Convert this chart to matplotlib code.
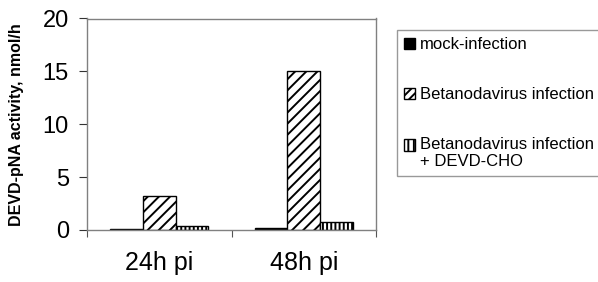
import matplotlib
matplotlib.use("Agg")
import matplotlib.pyplot as plt
from matplotlib.patches import Patch, Rectangle
from matplotlib.legend_handler import HandlerPatch
import numpy as np

plt.rcParams['font.family'] = ['Liberation Sans', 'DejaVu Sans']
plt.rcParams['hatch.linewidth'] = 1.4
plt.rcParams['hatch.color'] = 'black'

categories = ["24h pi", "48h pi"]
series_names = ["mock-infection", "Betanodavirus infection",
                "Betanodavirus infection\n+ DEVD-CHO"]
mock = [0.12, 0.18]
beta = [3.25, 15.0]
devd = [0.4, 0.8]
yticks = [0, 5, 10, 15, 20]

fig = plt.figure(figsize=(5.98, 2.82), dpi=100)
ax = fig.add_axes([87/598, 1-230/282, (376-87)/598, (230-18.5)/282])

x = np.arange(len(categories))
w = 0.225
hatches = [None, '///', '||||']
data = [mock, beta, devd]
for i, (vals, h) in enumerate(zip(data, hatches)):
    fc = 'black' if h is None else 'white'
    ax.bar(x + (i - 1) * w, vals, w, color=fc, edgecolor='black',
           linewidth=1.0, hatch=h, label=series_names[i])

ax.set_xlim(-0.5, 1.5)
ax.set_ylim(0, 20)
ax.set_yticks(yticks)
ax.set_yticklabels([str(t) for t in yticks], fontsize=17)
ax.set_xticks([-0.5, 0.5, 1.5])
ax.set_xticklabels([])
ax.set_xticks(x, minor=True)
ax.set_xticklabels(categories, minor=True, fontsize=18)
ax.tick_params(axis='x', which='minor', length=0, pad=15)
ax.tick_params(axis='x', which='major', length=5, color='#555555', direction='out')
ax.tick_params(axis='y', length=6, color='#333333', direction='out', pad=7)
for s in ax.spines.values():
    s.set_color('#808080')
    s.set_linewidth(1.0)

ax.set_ylabel("DEVD-pNA activity, nmol/h", fontsize=11.5, fontweight='bold')
ax.yaxis.set_label_coords(-0.218, 0.5)


class HandlerTopPatch(HandlerPatch):
    def __init__(self, shift, **kw):
        super().__init__(**kw)
        self.shift = shift

    def create_artists(self, legend, orig_handle, xdescent, ydescent,
                       width, height, fontsize, trans):
        p = Rectangle((-xdescent, -ydescent + self.shift), width, height)
        self.update_prop(p, orig_handle, legend)
        p.set_transform(trans)
        return [p]


handles = [Patch(facecolor='black', edgecolor='black', label=series_names[0]),
           Patch(facecolor='white', edgecolor='black', hatch='////', label=series_names[1]),
           Patch(facecolor='white', edgecolor='black', hatch='|||', label=series_names[2])]
leg = fig.legend(handles=handles, loc='upper left', bbox_to_anchor=(397/598, 1-30/282),
                 fontsize=12, frameon=True, fancybox=False, labelspacing=2.1,
                 handlelength=0.65, handleheight=0.65, handletextpad=0.3,
                 borderpad=0.42, borderaxespad=0,
                 handler_map={handles[2]: HandlerTopPatch(shift=6)})
leg.get_frame().set_edgecolor('#808080')
leg.get_frame().set_linewidth(1.0)

fig.savefig("out.png", dpi=100)
